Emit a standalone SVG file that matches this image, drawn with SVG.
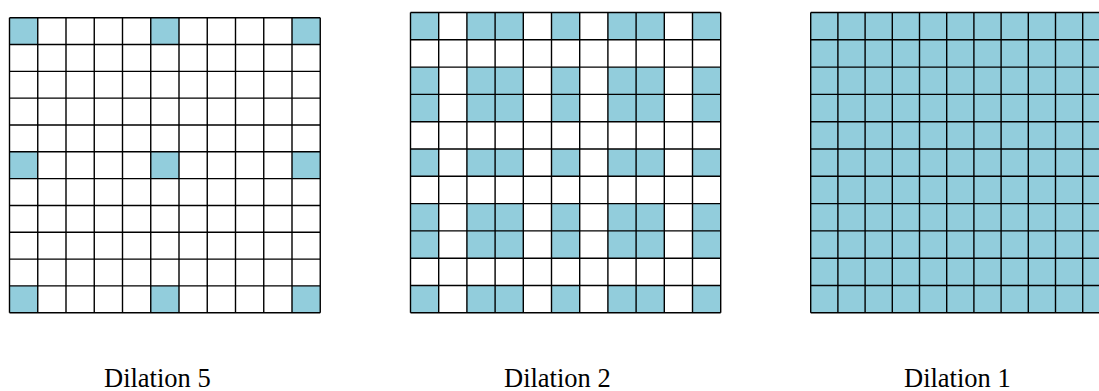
<svg xmlns="http://www.w3.org/2000/svg" width="1099" height="391" viewBox="0 0 1099 391">
<style>
.bg{fill:#ffffff}
.cell{fill:#92CDDC;stroke:none}
.grid{fill:none;stroke:#000000;stroke-width:1.4}
.lbl{font-family:"Liberation Serif","Times New Roman",serif;font-size:26.5px;fill:#000000}
</style>
<rect class="bg" x="0" y="0" width="1099" height="391"/>
<g id="grid-dilation5">
  <rect class="cell" x="9.5" y="17.7" width="28.25" height="26.82"/>
  <rect class="cell" x="150.75" y="17.7" width="28.25" height="26.82"/>
  <rect class="cell" x="292" y="17.7" width="28.25" height="26.82"/>
  <rect class="cell" x="9.5" y="151.8" width="28.25" height="26.82"/>
  <rect class="cell" x="150.75" y="151.8" width="28.25" height="26.82"/>
  <rect class="cell" x="292" y="151.8" width="28.25" height="26.82"/>
  <rect class="cell" x="9.5" y="285.9" width="28.25" height="26.82"/>
  <rect class="cell" x="150.75" y="285.9" width="28.25" height="26.82"/>
  <rect class="cell" x="292" y="285.9" width="28.25" height="26.82"/>
  <path class="grid" d="M9.5 17.7V312.72M37.75 17.7V312.72M66 17.7V312.72M94.25 17.7V312.72M122.5 17.7V312.72M150.75 17.7V312.72M179 17.7V312.72M207.25 17.7V312.72M235.5 17.7V312.72M263.75 17.7V312.72M292 17.7V312.72M320.25 17.7V312.72M9.5 17.7H320.25M9.5 44.52H320.25M9.5 71.34H320.25M9.5 98.16H320.25M9.5 124.98H320.25M9.5 151.8H320.25M9.5 178.62H320.25M9.5 205.44H320.25M9.5 232.26H320.25M9.5 259.08H320.25M9.5 285.9H320.25M9.5 312.72H320.25"/>
  <text class="lbl" x="104" y="387">Dilation 5</text>
</g>
<g id="grid-dilation2">
  <g>
    <rect class="cell" x="410.5" y="12.5" width="28.2" height="27.3"/>
    <rect class="cell" x="466.9" y="12.5" width="56.4" height="27.3"/>
    <rect class="cell" x="551.5" y="12.5" width="28.2" height="27.3"/>
    <rect class="cell" x="607.9" y="12.5" width="56.4" height="27.3"/>
    <rect class="cell" x="692.5" y="12.5" width="28.2" height="27.3"/>
    <rect class="cell" x="410.5" y="67.1" width="28.2" height="54.6"/>
    <rect class="cell" x="466.9" y="67.1" width="56.4" height="54.6"/>
    <rect class="cell" x="551.5" y="67.1" width="28.2" height="54.6"/>
    <rect class="cell" x="607.9" y="67.1" width="56.4" height="54.6"/>
    <rect class="cell" x="692.5" y="67.1" width="28.2" height="54.6"/>
    <rect class="cell" x="410.5" y="149" width="28.2" height="27.3"/>
    <rect class="cell" x="466.9" y="149" width="56.4" height="27.3"/>
    <rect class="cell" x="551.5" y="149" width="28.2" height="27.3"/>
    <rect class="cell" x="607.9" y="149" width="56.4" height="27.3"/>
    <rect class="cell" x="692.5" y="149" width="28.2" height="27.3"/>
    <rect class="cell" x="410.5" y="203.6" width="28.2" height="54.6"/>
    <rect class="cell" x="466.9" y="203.6" width="56.4" height="54.6"/>
    <rect class="cell" x="551.5" y="203.6" width="28.2" height="54.6"/>
    <rect class="cell" x="607.9" y="203.6" width="56.4" height="54.6"/>
    <rect class="cell" x="692.5" y="203.6" width="28.2" height="54.6"/>
    <rect class="cell" x="410.5" y="285.5" width="28.2" height="27.3"/>
    <rect class="cell" x="466.9" y="285.5" width="56.4" height="27.3"/>
    <rect class="cell" x="551.5" y="285.5" width="28.2" height="27.3"/>
    <rect class="cell" x="607.9" y="285.5" width="56.4" height="27.3"/>
    <rect class="cell" x="692.5" y="285.5" width="28.2" height="27.3"/>
  </g>
  <path class="grid" d="M410.5 12.5V312.8M438.7 12.5V312.8M466.9 12.5V312.8M495.1 12.5V312.8M523.3 12.5V312.8M551.5 12.5V312.8M579.7 12.5V312.8M607.9 12.5V312.8M636.1 12.5V312.8M664.3 12.5V312.8M692.5 12.5V312.8M720.7 12.5V312.8M410.5 12.5H720.7M410.5 39.8H720.7M410.5 67.1H720.7M410.5 94.4H720.7M410.5 121.7H720.7M410.5 149H720.7M410.5 176.3H720.7M410.5 203.6H720.7M410.5 230.9H720.7M410.5 258.2H720.7M410.5 285.5H720.7M410.5 312.8H720.7"/>
  <text class="lbl" x="504" y="387">Dilation 2</text>
</g>
<g id="grid-dilation1">
  <rect class="cell" x="810.7" y="12.5" width="299.2" height="300.3"/>
  <path class="grid" d="M810.7 12.5V312.8M837.9 12.5V312.8M865.1 12.5V312.8M892.3 12.5V312.8M919.5 12.5V312.8M946.7 12.5V312.8M973.9 12.5V312.8M1001.1 12.5V312.8M1028.3 12.5V312.8M1055.5 12.5V312.8M1082.7 12.5V312.8M1109.9 12.5V312.8M810.7 12.5H1109.9M810.7 39.8H1109.9M810.7 67.1H1109.9M810.7 94.4H1109.9M810.7 121.7H1109.9M810.7 149H1109.9M810.7 176.3H1109.9M810.7 203.6H1109.9M810.7 230.9H1109.9M810.7 258.2H1109.9M810.7 285.5H1109.9M810.7 312.8H1109.9"/>
  <text class="lbl" x="904" y="387">Dilation 1</text>
</g>
<g id="connectors"></g>
</svg>
